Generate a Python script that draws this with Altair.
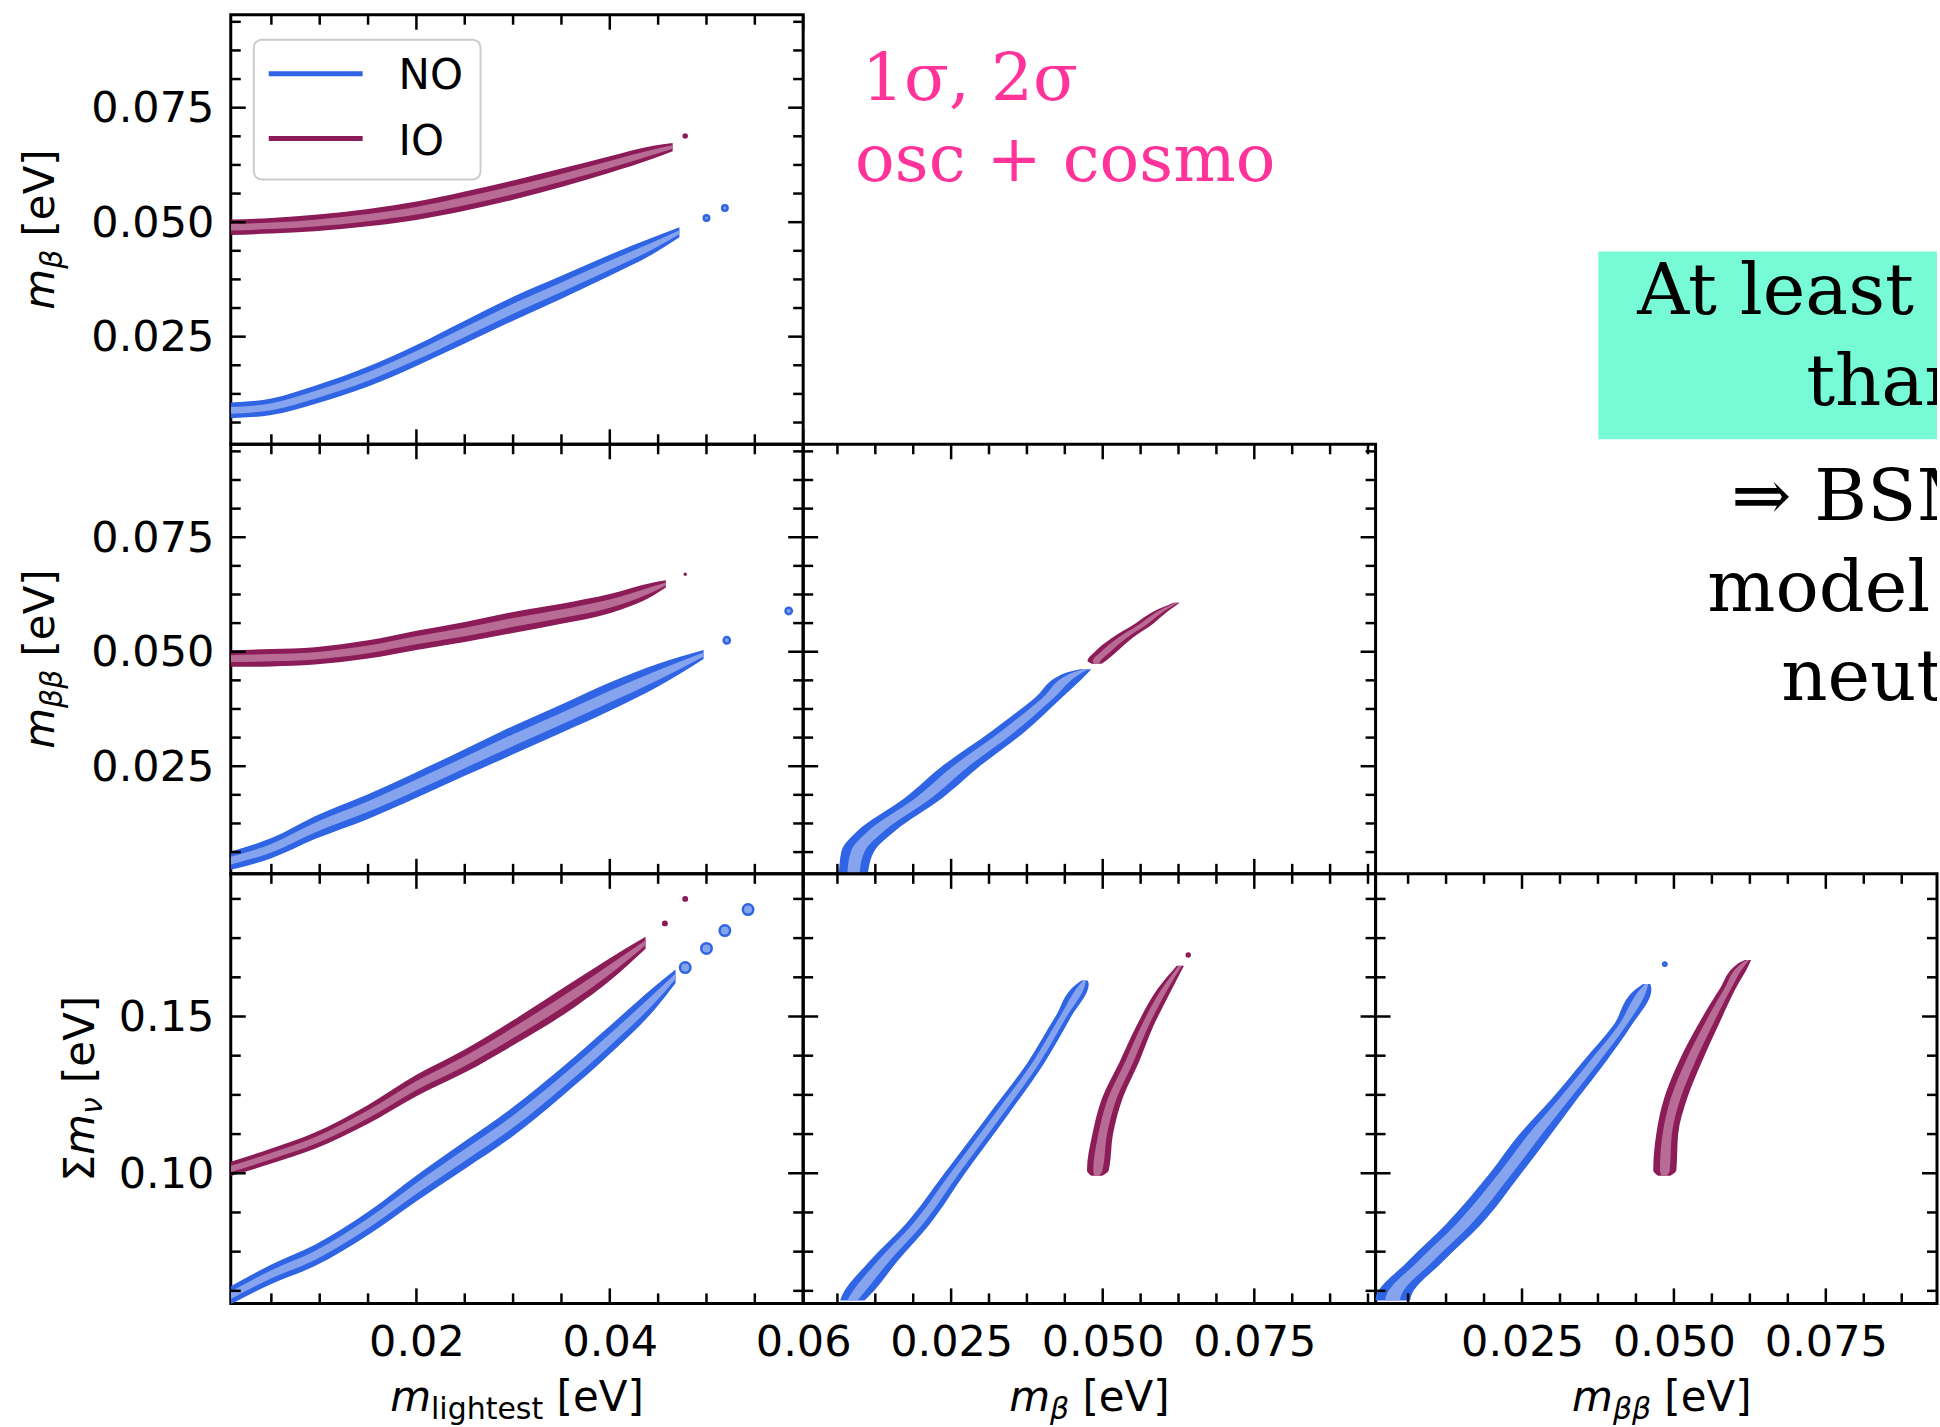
import altair as alt
import pandas as pd

# ---------------------------------------------------------------- series
SERIES = ["NO", "IO"]
DARK = {"NO": "#2f64e4", "IO": "#8c1c58"}
LIGHT = {"NO": "#86a3ee", "IO": "#b86c95"}

# ---------------------------------------------------------------- axes
DOM_ML = [0.0008, 0.06]          # m_lightest
DOM_MB_X = [0.0006, 0.095]       # m_beta on x
DOM_MB_Y = [0.0015, 0.0953]      # m_beta / m_betabeta on y
DOM_MBB_X = [0.0009, 0.0933]     # m_betabeta on x
DOM_SUM = [0.0585, 0.1955]       # sum of masses

ML_MAJOR = [0.02, 0.04, 0.06]
ML_MINOR = [0.005, 0.01, 0.015, 0.025, 0.03, 0.035, 0.045, 0.05, 0.055]
MB_MAJOR = [0.025, 0.05, 0.075]
MB_MINOR = [0.00625, 0.0125, 0.01875, 0.03125, 0.0375, 0.04375,
            0.05625, 0.0625, 0.06875, 0.08125, 0.0875, 0.09375]
SUM_MAJOR = [0.10, 0.15]
SUM_MINOR = [0.0625, 0.075, 0.0875, 0.1125, 0.125, 0.1375, 0.1625, 0.175, 0.1875]

# ---------------------------------------------------------------- contours
# m_lightest -> m_beta
A_NO_X = [0.0008, 0.005, 0.0095, 0.015, 0.02, 0.025, 0.03, 0.035, 0.04, 0.0445, 0.0472]
A_NO_Y = [0.0089, 0.0097, 0.0123, 0.0163, 0.0209, 0.0260, 0.0311, 0.0358, 0.0406, 0.0449, 0.0478]
A_NO_H = [0.0017, 0.0018, 0.0020, 0.0022, 0.0023, 0.0025, 0.0026, 0.0025, 0.0023, 0.0018, 0.0011]
A_IO_X = [0.0008, 0.005, 0.0095, 0.015, 0.02, 0.025, 0.03, 0.035, 0.04, 0.0445, 0.0465]
A_IO_Y = [0.0489, 0.0492, 0.0498, 0.0510, 0.0525, 0.0546, 0.0570, 0.0597, 0.0626, 0.0653, 0.0664]
A_IO_H = [0.0017, 0.0017, 0.0018, 0.0019, 0.0020, 0.0021, 0.0021, 0.0020, 0.0018, 0.0014, 0.0009]
A_NO_DOT_X, A_NO_DOT_Y = [0.0500, 0.0519], [0.0509, 0.0531]
A_IO_DOT_X, A_IO_DOT_Y = [0.0478], [0.0688]

# m_lightest -> m_betabeta
B_NO_X = [0.0008, 0.005, 0.0095, 0.015, 0.02, 0.025, 0.03, 0.035, 0.04, 0.045, 0.0497]
B_NO_Y = [0.0044, 0.0071, 0.0116, 0.0162, 0.0209, 0.0258, 0.0307, 0.0354, 0.0402, 0.0449, 0.0494]
B_NO_H = [0.0020, 0.0022, 0.0025, 0.0027, 0.0028, 0.0029, 0.0031, 0.0031, 0.0031, 0.0025, 0.0010]
B_IO_X = [0.0008, 0.005, 0.0095, 0.015, 0.02, 0.025, 0.03, 0.035, 0.04, 0.0445, 0.0458]
B_IO_Y = [0.0485, 0.0487, 0.0491, 0.0505, 0.0525, 0.0543, 0.0564, 0.0583, 0.0605, 0.0637, 0.0648]
B_IO_H = [0.0018, 0.0019, 0.0019, 0.0020, 0.0021, 0.0022, 0.0023, 0.0022, 0.0021, 0.0014, 0.0008]
B_NO_DOT_X, B_NO_DOT_Y = [0.0521, 0.0585], [0.0525, 0.0589]
B_IO_DOT_X, B_IO_DOT_Y = [0.0478], [0.0669]

# m_beta (x) against m_betabeta (y), tabulated along m_betabeta
C_NO_T = [0.0018, 0.0064, 0.0108, 0.018, 0.0253, 0.0326, 0.0398, 0.0453, 0.0462]
C_NO_C = [0.0089, 0.0096, 0.0126, 0.0204, 0.0269, 0.0344, 0.0409, 0.0456, 0.0472]
C_NO_H = [0.0024, 0.0027, 0.0031, 0.0031, 0.0031, 0.0028, 0.0022, 0.0019, 0.0009]
C_IO_T = [0.0474, 0.0480, 0.0500, 0.0530, 0.0560, 0.0590, 0.0607]
C_IO_C = [0.0490, 0.0490, 0.0505, 0.0532, 0.0567, 0.0598, 0.0622]
C_IO_H = [0.0008, 0.0015, 0.0018, 0.0017, 0.0015, 0.0011, 0.0005]

# m_lightest -> sum of masses
D_NO_X = [0.0008, 0.005, 0.0095, 0.015, 0.02, 0.025, 0.03, 0.035, 0.04, 0.0446, 0.0468]
D_NO_Y = [0.0611, 0.0678, 0.0738, 0.0840, 0.0952, 0.1058, 0.1165, 0.1290, 0.1425, 0.1558, 0.1628]
D_NO_H = [0.0029, 0.0031, 0.0034, 0.0037, 0.0041, 0.0044, 0.0046, 0.0046, 0.0045, 0.0037, 0.0022]
D_IO_X = [0.0008, 0.005, 0.0095, 0.015, 0.02, 0.025, 0.03, 0.0365, 0.04, 0.0437]
D_IO_Y = [0.1014, 0.1055, 0.1104, 0.1188, 0.1280, 0.1358, 0.1448, 0.1575, 0.1650, 0.1735]
D_IO_H = [0.0023, 0.0024, 0.0026, 0.0030, 0.0034, 0.0037, 0.0040, 0.0042, 0.0036, 0.0019]
D_NO_DOT_X, D_NO_DOT_Y = [0.0478, 0.0500, 0.0519, 0.0543], [0.1656, 0.1717, 0.1774, 0.1841]
D_IO_DOT_X, D_IO_DOT_Y = [0.0457, 0.0478], [0.1797, 0.1875]

# m_beta (x) against sum of masses (y), tabulated along the sum
E_NO_T = [0.0594, 0.0605, 0.0721, 0.0836, 0.1000, 0.1182, 0.1356, 0.1500, 0.1604, 0.1615]
E_NO_C = [0.0087, 0.0091, 0.0139, 0.0194, 0.0256, 0.0326, 0.0391, 0.0435, 0.0467, 0.0470]
E_NO_H = [0.0020, 0.0022, 0.0023, 0.0020, 0.0017, 0.0016, 0.0014, 0.0013, 0.0010, 0.0005]
E_IO_T = [0.0992, 0.1010, 0.1125, 0.1240, 0.1356, 0.1471, 0.1587, 0.1662]
E_IO_C = [0.0490, 0.0492, 0.0500, 0.0516, 0.0544, 0.0570, 0.0602, 0.0628]
E_IO_H = [0.0009, 0.0018, 0.0017, 0.0017, 0.0016, 0.0014, 0.0012, 0.0006]
E_IO_DOT_X, E_IO_DOT_Y = [0.0641], [0.1696]

# m_betabeta (x) against sum of masses (y), tabulated along the sum
F_NO_T = [0.0594, 0.0605, 0.0721, 0.0836, 0.1000, 0.1125, 0.1240, 0.1356, 0.1471, 0.1587, 0.1604]
F_NO_C = [0.0037, 0.0038, 0.0092, 0.0153, 0.0223, 0.0272, 0.0321, 0.0369, 0.0415, 0.0450, 0.0455]
F_NO_H = [0.0029, 0.0029, 0.0029, 0.0029, 0.0026, 0.0026, 0.0021, 0.0019, 0.0015, 0.0013, 0.0006]
F_IO_T = [0.0992, 0.1010, 0.1125, 0.1240, 0.1356, 0.1471, 0.1587, 0.1667, 0.1680]
F_IO_C = [0.0484, 0.0485, 0.0489, 0.0503, 0.0527, 0.0556, 0.0588, 0.0614, 0.0622]
F_IO_H = [0.0010, 0.0019, 0.0018, 0.0019, 0.0019, 0.0017, 0.0013, 0.0010, 0.0005]
F_NO_DOT_X, F_NO_DOT_Y = [0.0485], [0.1667]

# ---------------------------------------------------------------- text
NOTE_PINK = ["1σ, 2σ", "osc + cosmo"]
NOTE_BOX = ["At least", "than"]
NOTE_SIDE = ["⇒ BSM", "model", "neut"]

T_MLIGHT = [("m", "it"), ("lightest", "sub"), (" [eV]", "rm")]
T_MB = [("m", "it"), ("β", "subit"), (" [eV]", "rm")]
T_MBB = [("m", "it"), ("ββ", "subit"), (" [eV]", "rm")]
T_SUM = [("Σ", "rm"), ("m", "it"), ("ν", "subit"), (" [eV]", "rm")]

# ---------------------------------------------------------------- style
W, W_LAST, H = 573, 562, 430
SANS = "DejaVu Sans"
SERIF = "DejaVu Serif"
LABEL_SIZE = 43
TITLE_SIZE = 42
SUB_SIZE = 30
MAJOR_LEN, MINOR_LEN, TICK_W = 15, 10, 2.5
CORE = 0.42  # width of the pale core relative to the outer contour

ADV = {"m": .974, "β": .635, "ν": .592, "Σ": .632, " ": .318, "[": .390, "]": .390,
       "e": .615, "V": .684, "l": .278, "i": .278, "g": .635, "h": .634, "t": .392, "s": .521}


def text_len(s, size):
    return sum(ADV.get(c, .6) for c in s) * size


def band_frame(t, c, h):
    return pd.DataFrame({
        "t": t,
        "lo": [a - b for a, b in zip(c, h)],
        "hi": [a + b for a, b in zip(c, h)],
        "lo1": [a - CORE * b for a, b in zip(c, h)],
        "hi1": [a + CORE * b for a, b in zip(c, h)],
    })


def make_axis(values, fmt, orient):
    if orient == "left":
        return alt.Axis(values=values, format=fmt, orient="left", labelFont=SANS,
                        labelFontSize=LABEL_SIZE, labelColor="black", labelPadding=17,
                        labelOffset=1, ticks=False, tickSize=0, domain=False, grid=False,
                        title="", labelFlush=False, labelOverlap=False)
    return alt.Axis(values=values, format=fmt, orient="bottom", labelFont=SANS,
                    labelFontSize=LABEL_SIZE, labelColor="black", labelPadding=18,
                    ticks=False, tickSize=0, domain=False, grid=False, title="",
                    labelFlush=False, labelOverlap=False)


def title_layers(pieces, ax, ay, vertical):
    """Axis title built from italic / subscript pieces laid end to end."""
    items = []
    for s, kind in pieces:
        z = SUB_SIZE if kind.startswith("sub") else TITLE_SIZE
        gap = text_len(" ", z) if s.startswith(" ") else 0
        s = s.strip()
        items.append((s, kind, z, gap, text_len(s, z)))
    pos = -sum(g + ln for _, _, _, g, ln in items) / 2
    out = []
    for s, kind, z, gap, ln in items:
        pos += gap
        kw = dict(font=SANS, fontSize=z, align="left", baseline="alphabetic",
                  color="black", dx=pos, dy=8 if kind.startswith("sub") else 0)
        if kind in ("it", "subit"):
            kw["fontStyle"] = "italic"
        if vertical:
            kw["angle"] = 270
        out.append(alt.Chart(pd.DataFrame({"s": [s]})).mark_text(**kw).encode(
            text="s:N", x=alt.value(ax), y=alt.value(ay)))
        pos += ln
    return out


def panel(bands, dots, xdom, ydom, xt, yt, width, horizontal,
          xlabels=False, ylabels=False, xtitle=None, ytitle=None, ytitle_x=-177,
          dot_size=None, extra=()):
    xs = alt.Scale(domain=xdom, nice=False, zero=False)
    ys = alt.Scale(domain=ydom, nice=False, zero=False)
    xaxis = make_axis(xt[0], xt[2], "bottom") if xlabels else None
    yaxis = make_axis(yt[0], yt[2], "left") if ylabels else None
    layers = []
    for name, df in bands:
        for lo, hi, col in (("lo", "hi", DARK[name]), ("lo1", "hi1", LIGHT[name])):
            if horizontal:
                layers.append(alt.Chart(df).mark_area(
                    color=col, clip=True, orient="horizontal", interpolate="monotone").encode(
                    y=alt.Y("t:Q", scale=ys, axis=yaxis),
                    x=alt.X(f"{lo}:Q", scale=xs, axis=xaxis),
                    x2=f"{hi}:Q"))
            else:
                layers.append(alt.Chart(df).mark_area(
                    color=col, clip=True, interpolate="monotone").encode(
                    x=alt.X("t:Q", scale=xs, axis=xaxis),
                    y=alt.Y(f"{lo}:Q", scale=ys, axis=yaxis),
                    y2=f"{hi}:Q"))
    for name, dx, dy in dots:
        df = pd.DataFrame({"x": dx, "y": dy})
        size = dot_size[name] if dot_size else 50
        if name == "NO":
            mk = alt.Chart(df).mark_point(shape="circle", filled=True, fill=LIGHT[name],
                                          stroke=DARK[name], strokeWidth=2.5, size=size,
                                          opacity=1, clip=True)
        else:
            mk = alt.Chart(df).mark_point(shape="circle", filled=True, color=DARK[name],
                                          size=size, opacity=1, clip=True)
        layers.append(mk.encode(x=alt.X("x:Q", scale=xs, axis=xaxis),
                                y=alt.Y("y:Q", scale=ys, axis=yaxis)))

    # inward ticks on all four sides
    for vals, ln in ((xt[0], MAJOR_LEN), (xt[1], MINOR_LEN)):
        df = pd.DataFrame({"v": [v for v in vals if xdom[0] <= v <= xdom[1]]})
        rule = alt.Chart(df).mark_rule(color="black", strokeWidth=TICK_W)
        xenc = alt.X("v:Q", scale=xs, axis=xaxis)
        layers.append(rule.encode(x=xenc, y=alt.value(H), y2=alt.value(H - ln)))
        layers.append(rule.encode(x=xenc, y=alt.value(0), y2=alt.value(ln)))
    for vals, ln in ((yt[0], MAJOR_LEN), (yt[1], MINOR_LEN)):
        df = pd.DataFrame({"v": [v for v in vals if ydom[0] <= v <= ydom[1]]})
        rule = alt.Chart(df).mark_rule(color="black", strokeWidth=TICK_W)
        yenc = alt.Y("v:Q", scale=ys, axis=yaxis)
        layers.append(rule.encode(y=yenc, x=alt.value(0), x2=alt.value(ln)))
        layers.append(rule.encode(y=yenc, x=alt.value(width), x2=alt.value(width - ln)))

    if xtitle:
        layers += title_layers(xtitle, 286.5, H + 108, False)
    if ytitle:
        layers += title_layers(ytitle, ytitle_x, H / 2, True)
    layers += list(extra)
    return alt.layer(*layers).properties(width=width, height=H)


def legend_layers():
    one = pd.DataFrame({"a": [0]})
    out = [alt.Chart(one).mark_rect(fill="white", stroke="#cccccc", strokeWidth=2,
                                    cornerRadius=8).encode(
        x=alt.value(23), x2=alt.value(250), y=alt.value(25), y2=alt.value(165))]
    for i, name in enumerate(SERIES):
        out.append(alt.Chart(one).mark_rule(color=DARK[name], strokeWidth=5).encode(
            x=alt.value(38), x2=alt.value(132), y=alt.value(59 + 65 * i)))
        out.append(alt.Chart(pd.DataFrame({"s": [name]})).mark_text(
            font=SANS, fontSize=42, align="left", baseline="alphabetic", color="black").encode(
            text="s:N", x=alt.value(168), y=alt.value(74 + 66 * i)))
    return out


def note(text, x, y, size, color, clip=False):
    return alt.Chart(pd.DataFrame({"s": [text]})).mark_text(
        font=SERIF, fontSize=size, align="left", baseline="alphabetic",
        color=color, clip=clip).encode(text="s:N", x=alt.value(x), y=alt.value(y))


def blank(width, layers):
    return alt.layer(*layers).properties(
        width=width, height=H, view=alt.ViewBackground(stroke="transparent"))


ML_T = (ML_MAJOR, ML_MINOR, ".2f")
MB_T = (MB_MAJOR, MB_MINOR, ".3f")
SUM_T = (SUM_MAJOR, SUM_MINOR, ".2f")

pA = panel([("NO", band_frame(A_NO_X, A_NO_Y, A_NO_H)), ("IO", band_frame(A_IO_X, A_IO_Y, A_IO_H))],
           [("NO", A_NO_DOT_X, A_NO_DOT_Y), ("IO", A_IO_DOT_X, A_IO_DOT_Y)],
           DOM_ML, DOM_MB_Y, ML_T, MB_T, W, False, ylabels=True, ytitle=T_MB,
           dot_size={"NO": 30, "IO": 30}, extra=legend_layers())

pB = panel([("NO", band_frame(B_NO_X, B_NO_Y, B_NO_H)), ("IO", band_frame(B_IO_X, B_IO_Y, B_IO_H))],
           [("NO", B_NO_DOT_X, B_NO_DOT_Y), ("IO", B_IO_DOT_X, B_IO_DOT_Y)],
           DOM_ML, DOM_MB_Y, ML_T, MB_T, W, False, ylabels=True, ytitle=T_MBB,
           dot_size={"NO": 40, "IO": 12})

pC = panel([("NO", band_frame(C_NO_T, C_NO_C, C_NO_H)), ("IO", band_frame(C_IO_T, C_IO_C, C_IO_H))],
           [], DOM_MB_X, DOM_MB_Y, MB_T, MB_T, W, True)

pD = panel([("NO", band_frame(D_NO_X, D_NO_Y, D_NO_H)), ("IO", band_frame(D_IO_X, D_IO_Y, D_IO_H))],
           [("NO", D_NO_DOT_X, D_NO_DOT_Y), ("IO", D_IO_DOT_X, D_IO_DOT_Y)],
           DOM_ML, DOM_SUM, ML_T, SUM_T, W, False, xlabels=True, ylabels=True,
           xtitle=T_MLIGHT, ytitle=T_SUM, ytitle_x=-137, dot_size={"NO": 110, "IO": 35})

pE = panel([("NO", band_frame(E_NO_T, E_NO_C, E_NO_H)), ("IO", band_frame(E_IO_T, E_IO_C, E_IO_H))],
           [("IO", E_IO_DOT_X, E_IO_DOT_Y)],
           DOM_MB_X, DOM_SUM, MB_T, SUM_T, W, True, xlabels=True, xtitle=T_MB,
           dot_size={"NO": 30, "IO": 30})

pF = panel([("NO", band_frame(F_NO_T, F_NO_C, F_NO_H)), ("IO", band_frame(F_IO_T, F_IO_C, F_IO_H))],
           [("NO", F_NO_DOT_X, F_NO_DOT_Y)],
           DOM_MBB_X, DOM_SUM, MB_T, SUM_T, W_LAST, True, xlabels=True, xtitle=T_MBB,
           dot_size={"NO": 12, "IO": 12})

PINK = "#ff3399"
c12 = blank(W, [note(NOTE_PINK[0], 59, 85, 66, PINK), note(NOTE_PINK[1], 52, 166, 66, PINK)])

one = pd.DataFrame({"a": [0]})
teal = alt.Chart(one).mark_rect(fill="#76fbd6").encode(
    x=alt.value(223), x2=alt.value(W_LAST), y=alt.value(237), y2=alt.value(425))
c13 = blank(W_LAST, [teal, note(NOTE_BOX[0], 262, 300, 72, "black", True),
                     note(NOTE_BOX[1], 431, 391, 72, "black", True)])
c23 = blank(W_LAST, [note(NOTE_SIDE[0], 356, 76, 72, "black", True),
                     note(NOTE_SIDE[1], 332, 167, 72, "black", True),
                     note(NOTE_SIDE[2], 406, 256, 72, "black", True)])

chart = alt.concat(pA, c12, c13, pB, pC, c23, pD, pE, pF,
                   columns=3, spacing=0, bounds="flush").configure_view(
    stroke="black", strokeWidth=3).properties(
    padding={"left": 18, "top": 11, "right": 0, "bottom": 0}, background="white")

chart.save("out.html", embed_options={"renderer": "svg", "actions": False})
